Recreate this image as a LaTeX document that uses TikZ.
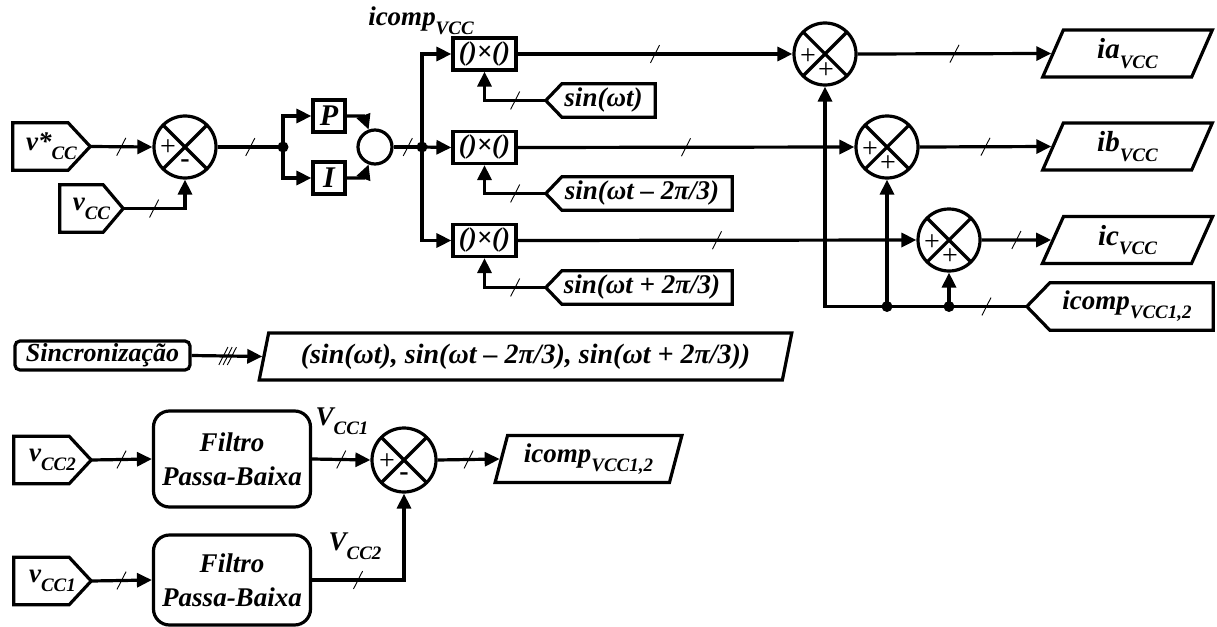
\documentclass[tikz,border=0pt]{standalone}
\usepackage{fontspec}
\setmainfont{Liberation Serif}
\usetikzlibrary{shapes.geometric,arrows.meta,calc}
\newcommand{\sbs}[1]{\raisebox{-0.33em}{\fontsize{19}{19}\selectfont #1}}
\newcommand{\sr}{\rule{20pt}{0.9pt}}
\newcommand{\pentR}[2]{\draw[lw, line join=miter] (#1.north west) -- ([xshift=-#2pt]#1.north east) -- (#1.east) -- ([xshift=-#2pt]#1.south east) -- (#1.south west) -- cycle;}
\newcommand{\pentL}[2]{\draw[lw, line join=miter] (#1.north east) -- ([xshift=#2pt]#1.north west) -- (#1.west) -- ([xshift=#2pt]#1.south west) -- (#1.south east) -- cycle;}
\tikzset{
  lw/.style={line width=3.2pt},
  base/.style={font=\fontsize{27}{30}\selectfont\bfseries\itshape, inner sep=0pt},
  arr/.style={lw, -{Triangle[length=15pt,width=14pt]}},
  blk/.style={base, draw, lw, rectangle},
  sumx/.style={circle, draw, lw, minimum size=62pt, inner sep=0pt,
    path picture={\draw[lw] (path picture bounding box.north west)--(path picture bounding box.south east)
      (path picture bounding box.north east)--(path picture bounding box.south west);}},
  para/.style={base, draw, lw, trapezium, trapezium left angle=72, trapezium right angle=108, trapezium stretches=true},
  sgn/.style={font=\fontsize{28}{28}\selectfont\rmfamily\upshape, inner sep=0pt},
  sgm/.style={font=\fontsize{28}{28}\selectfont\rmfamily\bfseries\upshape, inner sep=0pt},
  sl/.style={inner sep=0pt, rotate=63},
  filt/.style={blk, rounded corners=16pt, minimum width=157pt, align=center, font=\fontsize{27}{34}\selectfont\bfseries\itshape}
}
\begin{document}
\begin{tikzpicture}[x=1pt,y=-1pt]
\useasboundingbox (0,0) rectangle (1217,626);

% ---------- left part
\node[base, minimum width=77pt, minimum height=47pt] (vstar) at (51.5,146.5) {v*\sbs{CC}\hspace{10pt}};
\pentR{vstar}{22}
\node[base, minimum width=63pt, minimum height=47pt] (vcc) at (91.5,208.5) {v\sbs{CC}\hspace{10pt}};
\pentR{vcc}{20}
\node[sumx] (s1) at (185,147) {};
\node[sgn] (s1p) at (168,148) {+};
\node[sgm] (s1m) at (185,164) {-};
\coordinate (j1) at (283,147);
\node[blk, minimum size=32pt, font=\fontsize{30}{30}\selectfont\bfseries\itshape] (P) at (329,116) {P};
\node[blk, minimum size=32pt, font=\fontsize{30}{30}\selectfont\bfseries\itshape] (I) at (329,178) {I};
\node[circle, draw, lw, minimum size=34pt, inner sep=0pt] (c) at (375,147) {};
\coordinate (j2) at (422,147);

\draw[arr] (vstar.east) -- node[sl]{\sr} (s1.west);
\draw[arr] (vcc.east) -| node[sl,pos=.25]{\sr} (s1.south);
\draw[lw] (s1.east) -- node[sl]{\sr} (j1);
\fill (j1) circle (5.5pt);
\draw[arr] (j1) |- (P.west);
\draw[arr] (j1) |- (I.west);
\draw[arr] (P.east) -- ++(17,0) -- (c.110);
\draw[arr] (I.east) -- ++(17,0) -- (c.250);
\draw[lw] (c.east) -- node[sl]{\sr} (j2);
\fill (j2) circle (5.5pt);

\node[base] (lab) at (421,21) {icomp\sbs{VCC}};

% ---------- multipliers
\node[blk, minimum width=63pt, minimum height=32pt] (m1) at (484.5,54) {()×()};
\node[blk, minimum width=63pt, minimum height=32pt] (m2) at (484.5,147.5) {()×()};
\node[blk, minimum width=63pt, minimum height=32pt] (m3) at (484.5,240.5) {()×()};
\draw[arr] (j2) |- (m1.west);
\draw[arr] (j2) -- (m2.west);
\draw[arr] (j2) |- (m3.west);

\node[base, minimum width=109pt, minimum height=33pt] (sin1) at (600.5,100.5) {\hspace{6pt}sin(ωt)};
\pentL{sin1}{16}
\node[base, minimum width=186pt, minimum height=33pt] (sin2) at (639,193.5) {\hspace{6pt}sin(ωt – 2π/3)};
\pentL{sin2}{16}
\node[base, minimum width=186pt, minimum height=33pt] (sin3) at (639,287.5) {\hspace{6pt}sin(ωt + 2π/3)};
\pentL{sin3}{16}
\draw[arr] (sin1.west) -| node[sl,pos=.25]{\sr} (m1.south);
\draw[arr] (sin2.west) -| node[sl,pos=.25]{\sr} (m2.south);
\draw[arr] (sin3.west) -| node[sl,pos=.25]{\sr} (m3.south);

% ---------- sums right
\node[sumx] (sA) at (825,54) {};
\node[sgn] (sAp) at (808,57) {+};
\node[sgn] (sAq) at (826,71) {+};
\node[sumx] (sB) at (887,147) {};
\node[sgn] (sBp) at (870,150) {+};
\node[sgn] (sBq) at (888,164) {+};
\node[sumx] (sC) at (949,240) {};
\node[sgn] (sCp) at (932,243) {+};
\node[sgn] (sCq) at (950,257) {+};

\draw[arr] (m1.east) -- node[sl]{\sr} (sA.west);
\draw[arr] (m2.east) -- node[sl]{\sr} (sB.west);
\draw[arr] (m3.east) -- node[sl]{\sr} (sC.west);

\node[para, minimum width=171pt, minimum height=47pt, font=\fontsize{29}{30}\selectfont\bfseries\itshape] (ia) at (1127.5,53.5) {ia\sbs{VCC}};
\node[para, minimum width=171pt, minimum height=47pt, font=\fontsize{29}{30}\selectfont\bfseries\itshape] (ib) at (1127.5,146.5) {ib\sbs{VCC}};
\node[para, minimum width=171pt, minimum height=47pt, font=\fontsize{29}{30}\selectfont\bfseries\itshape] (ic) at (1127.5,240) {ic\sbs{VCC}};
\draw[arr] (sA.east) -- node[sl]{\sr} (ia.west);
\draw[arr] (sB.east) -- node[sl]{\sr} (ib.west);
\draw[arr] (sC.east) -- node[sl]{\sr} (ic.west);

\node[base, minimum width=186pt, minimum height=47pt] (icin) at (1120,306.5) {\hspace{14pt}icomp\sbs{VCC1,2}};
\pentL{icin}{23}
\coordinate (d1) at (887,306.5);
\coordinate (d2) at (949,306.5);
\draw[arr] (icin.west) -| node[sl,pos=.1]{\sr} (sA.south);
\draw[arr] (d1) -- (sB.south);
\draw[arr] (d2) -- (sC.south);
\fill (d1) circle (5.5pt);
\fill (d2) circle (5.5pt);

% ---------- synchronisation
\node[blk, rounded corners=5pt, minimum width=175pt, minimum height=29pt, font=\fontsize{26}{28}\selectfont\bfseries\itshape] (sync) at (102.5,355.5) {Sincronização};
\node[para, minimum width=535pt, minimum height=47pt, font=\fontsize{28}{30}\selectfont\bfseries\itshape] (so) at (525.5,356.5) {(sin(ωt), sin(ωt – 2π/3), sin(ωt + 2π/3))};
\draw[arr] (sync.east) -- node[sl,pos=.45]{\sr} node[sl,pos=.51]{\sr} node[sl,pos=.57]{\sr} (so.west);

% ---------- bottom
\node[base, minimum width=77pt, minimum height=47pt] (vcc2) at (52.5,460) {v\sbs{CC2}\hspace{10pt}};
\pentR{vcc2}{22}
\node[base, minimum width=77pt, minimum height=47pt] (vcc1) at (52.5,581) {v\sbs{CC1}\hspace{10pt}};
\pentR{vcc1}{22}
\node[filt, minimum height=96pt] (f1) at (232,459) {Filtro\\Passa-Baixa};
\node[filt, minimum height=90pt] (f2) at (232,580) {Filtro\\Passa-Baixa};
\node[sumx, minimum size=64pt] (s2) at (404,460) {};
\node[sgn] (s2p) at (387,462) {+};
\node[sgm] (s2m) at (404,477) {-};
\node[para, minimum width=187pt, minimum height=47pt] (ico) at (588.5,459) {icomp\sbs{VCC1,2}};

\draw[arr] (vcc2.east) -- node[sl]{\sr} (f1.west);
\draw[arr] (vcc1.east) -- node[sl]{\sr} (f2.west);
\draw[arr] (f1.east) -- node[sl]{\sr} (s2.west);
\draw[arr] (f2.east) -| node[sl,pos=.25]{\sr} (s2.south);
\draw[arr] (s2.east) -- node[sl]{\sr} (ico.west);
\node[base] (v1) at (342,421) {V\sbs{CC1}};
\node[base] (v2) at (355,546) {V\sbs{CC2}};
\end{tikzpicture}
\end{document}
